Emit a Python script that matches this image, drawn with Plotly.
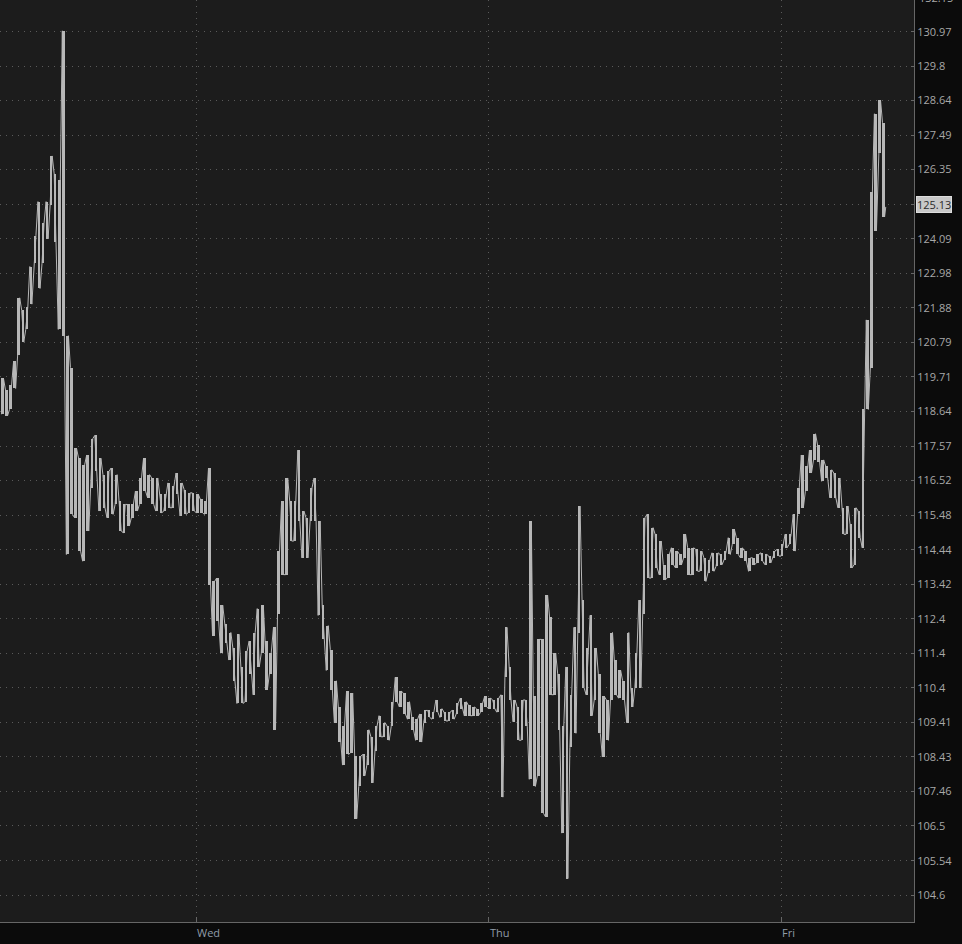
import math
import pandas as pd
import plotly.graph_objects as go

# ---- data (20-minute bars, high / low) ----
bar_start = "2024-03-05 08:00"
bar_minutes = 20

high = [
    119.67, 119.3, 119.45, 120.2, 122.2, 121.8, 121.9, 123.2, 124.2, 125.3,
    124.6, 125.3, 126.8, 126.2, 126.0, 131.0, 121.0, 120.0, 117.5, 117.2,
    117.0, 117.3, 117.8, 117.9, 117.2, 116.7, 116.8, 116.9, 116.7, 115.9,
    115.8, 115.8, 115.8, 116.2, 116.6, 117.2, 116.7, 116.6, 116.6, 116.1,
    116.1, 116.45, 116.35, 116.75, 116.45, 116.25, 116.15, 116.15, 116.1, 115.95,
    115.9, 116.9, 113.5, 113.6, 112.8, 112.25, 112.0, 111.55, 111.95, 111.0,
    111.45, 111.75, 112.0, 112.7, 112.8, 111.75, 111.4, 112.15, 114.4, 115.9,
    116.6, 115.9, 115.9, 117.45, 115.6, 115.4, 116.3, 116.6, 115.3, 112.8,
    112.2, 111.5, 110.6, 109.85, 109.3, 110.3, 110.25, 108.45, 108.45, 108.5,
    109.2, 109.0, 109.3, 109.6, 109.4, 109.3, 110.0, 110.7, 110.3, 110.25,
    110.0, 109.55, 109.5, 109.65, 109.75, 109.75, 109.7, 110.05, 109.8, 109.7,
    109.7, 109.75, 109.95, 110.1, 110.0, 109.9, 109.85, 109.8, 109.95, 110.15,
    110.1, 110.05, 110.1, 110.2, 112.15, 111.0, 110.05, 109.85, 110.05, 110.05,
    115.3, 110.15, 111.8, 111.8, 113.1, 112.45, 111.4, 110.8, 109.3, 111.0,
    110.2, 112.15, 115.75, 112.95, 111.55, 112.5, 111.55, 110.8, 110.15, 110.05,
    112.0, 111.2, 110.9, 110.6, 112.0, 110.4, 111.4, 112.95, 115.4, 115.5,
    115.1, 114.9, 114.7, 114.0, 114.3, 114.5, 114.4, 114.3, 114.9, 114.5,
    114.5, 114.45, 114.4, 114.2, 114.15, 114.35, 114.35, 114.3, 114.4, 114.8,
    115.05, 114.8, 114.5, 114.4, 114.2, 114.2, 114.3, 114.35, 114.3, 114.25,
    114.4, 114.45, 114.6, 114.9, 114.9, 115.5, 116.3, 117.3, 116.95, 117.45,
    117.95, 117.6, 117.15, 116.95, 116.85, 116.75, 116.6, 115.7, 115.75, 115.2,
    115.7, 115.6, 118.7, 121.5, 125.6, 128.2, 128.66, 127.9,
]

low = [
    118.55, 118.5, 118.7, 119.35, 120.4, 120.8, 121.2, 122.0, 123.3, 122.5,
    123.3, 124.1, 125.2, 124.0, 121.2, 121.0, 114.3, 115.5, 115.4, 114.4,
    114.1, 115.0, 116.3, 116.8, 115.6, 115.7, 115.4, 115.5, 115.8, 115.0,
    114.95, 115.15, 115.4, 115.6, 115.8, 116.2, 116.0, 115.8, 115.6, 115.55,
    115.6, 115.7, 115.7, 116.1, 115.45, 115.5, 115.55, 115.6, 115.55, 115.55,
    115.5, 113.4, 111.9, 112.35, 111.4, 111.7, 111.2, 110.6, 109.95, 109.95,
    110.0, 110.8, 110.2, 111.0, 111.4, 110.35, 110.8, 109.2, 112.55, 113.7,
    113.7, 114.7, 114.7, 115.3, 114.2, 114.2, 115.3, 115.3, 112.5, 111.8,
    110.9, 110.35, 109.4, 108.85, 108.2, 108.5, 108.55, 106.7, 107.6, 107.9,
    108.2, 107.7, 108.6, 109.0, 109.0, 108.9, 109.3, 110.0, 109.85, 109.65,
    109.5, 109.2, 108.9, 108.85, 109.4, 109.55, 109.5, 109.7, 109.55, 109.45,
    109.45, 109.5, 109.65, 109.8, 109.6, 109.6, 109.6, 109.6, 109.7, 109.85,
    109.8, 109.8, 109.7, 107.3, 110.7, 110.05, 109.43, 108.9, 108.9, 109.3,
    107.8, 107.6, 107.9, 106.85, 106.75, 110.2, 110.2, 109.2, 106.3, 105.05,
    108.7, 109.1, 112.0, 110.4, 110.2, 109.6, 110.05, 109.1, 108.43, 108.9,
    110.05, 110.2, 110.1, 110.05, 109.4, 109.85, 110.4, 110.4, 112.55, 113.6,
    113.6, 113.9, 113.7, 113.55, 113.6, 114.0, 113.9, 114.0, 114.2, 113.7,
    113.7, 113.8, 113.8, 113.5, 113.75, 113.8, 113.95, 114.0, 114.15, 114.3,
    114.6, 114.3, 114.2, 114.1, 113.8, 114.0, 114.05, 114.1, 114.0, 114.05,
    114.2, 114.25, 114.25, 114.5, 114.6, 114.4, 115.5, 115.7, 116.2, 116.75,
    117.15, 117.1, 116.5, 116.6, 116.0, 116.0, 115.7, 114.9, 114.9, 113.9,
    114.0, 114.8, 114.5, 118.7, 120.0, 124.35, 126.9, 124.8,
]

last_price = 125.13

y_tick_values = [104.6, 105.54, 106.5, 107.46, 108.43, 109.41, 110.4, 111.4,
                 112.4, 113.42, 114.44, 115.48, 116.52, 117.57, 118.64, 119.71,
                 120.79, 121.88, 122.98, 124.09, 125.21, 126.35, 127.49, 128.64,
                 129.8, 130.97]
y_tick_labels = ["104.6", "105.54", "106.5", "107.46", "108.43", "109.41", "110.4",
                 "111.4", "112.4", "113.42", "114.44", "115.48", "116.52", "117.57",
                 "118.64", "119.71", "120.79", "121.88", "122.98", "124.09", "",
                 "126.35", "127.49", "128.64", "129.8", "130.97"]
top_cut_label = "132.15"

day_ticks = ["2024-03-06", "2024-03-07", "2024-03-08"]
day_labels = ["Wed", "Thu", "Fri"]

# ---- build the traces ----
times = pd.date_range(bar_start, periods=len(high), freq=f"{bar_minutes}min")
half = pd.Timedelta(minutes=bar_minutes / 2)
xs, ys = [], []
for i, (t, h, l) in enumerate(zip(times, high, low)):
    a, b = (l, h) if i % 2 == 0 else (h, l)
    xs += [t, t + half]
    ys += [a, b]
xs.append(times[-1] + pd.Timedelta(minutes=bar_minutes * 0.8))
ys.append(last_price)

bar_mid = times + pd.Timedelta(minutes=bar_minutes / 4)
ranges = [h - l for h, l in zip(high, low)]

LINE = "#b7b7b7"
GRID = "#5a5a5a"
AXIS = "#666666"

fig = go.Figure()
fig.add_trace(go.Bar(x=bar_mid, y=ranges, base=low,
                     width=bar_minutes * 60 * 1000 * 0.6,
                     marker=dict(color=LINE, line=dict(width=0)),
                     hoverinfo="skip"))
fig.add_trace(go.Scatter(x=xs, y=ys, mode="lines",
                         line=dict(color=LINE, width=1),
                         hoverinfo="skip"))

fig.update_layout(
    width=962, height=944,
    margin=dict(l=0, r=48, t=0, b=22),
    paper_bgcolor="#0b0b0b", plot_bgcolor="#1c1c1c",
    showlegend=False, bargap=0,
    font=dict(family="Open Sans", size=11, color="#a8a8a8"),
)

fig.update_xaxes(
    type="date",
    range=["2024-03-05 07:53", "2024-03-08 10:55"],
    tickvals=day_ticks, showticklabels=False,
    ticks="inside", ticklen=5, tickcolor=AXIS,
    showgrid=True, gridcolor=GRID, gridwidth=1, griddash="1px,5px",
    showline=True, linecolor=AXIS, linewidth=1,
    zeroline=False,
)

fig.update_yaxes(
    type="log", side="right",
    range=[2.016478, 2.120758],
    tickvals=y_tick_values, ticktext=y_tick_labels,
    ticks="inside", ticklen=3, tickcolor=AXIS,
    tickfont=dict(family="Open Sans", size=11, color="#a8a8a8"),
    showgrid=True, gridcolor=GRID, gridwidth=1, griddash="1px,5px",
    showline=True, linecolor=AXIS, linewidth=1,
    zeroline=False,
)

annotations = []
for d, lab in zip(day_ticks, day_labels):
    annotations.append(dict(x=d, xref="x", y=0, yref="paper", yanchor="middle",
                            yshift=-10.5, xanchor="left", xshift=-1, text=lab,
                            showarrow=False,
                            font=dict(family="Open Sans", size=11, color="#909ca8")))
annotations.append(dict(x=1, xref="paper", y=math.log10(last_price), yref="y",
                        xanchor="left", xshift=2, yshift=2, yanchor="middle",
                        text=str(last_price), showarrow=False,
                        bgcolor="#c8c8c8", bordercolor="#dddddd", borderwidth=1,
                        borderpad=0,
                        font=dict(family="Open Sans", size=11, color="#2b2b2b")))
annotations.append(dict(x=1, xref="paper", y=1, yref="paper", yanchor="middle",
                        yshift=3, xanchor="left", xshift=3, text=top_cut_label,
                        showarrow=False,
                        font=dict(family="Open Sans", size=11, color="#a8a8a8")))
fig.update_layout(annotations=annotations)

fig.write_html("out.html",
               config={"displayModeBar": False},
               post_script="document.body.style.margin='0';"
                           "document.body.style.background='#0b0b0b';")
